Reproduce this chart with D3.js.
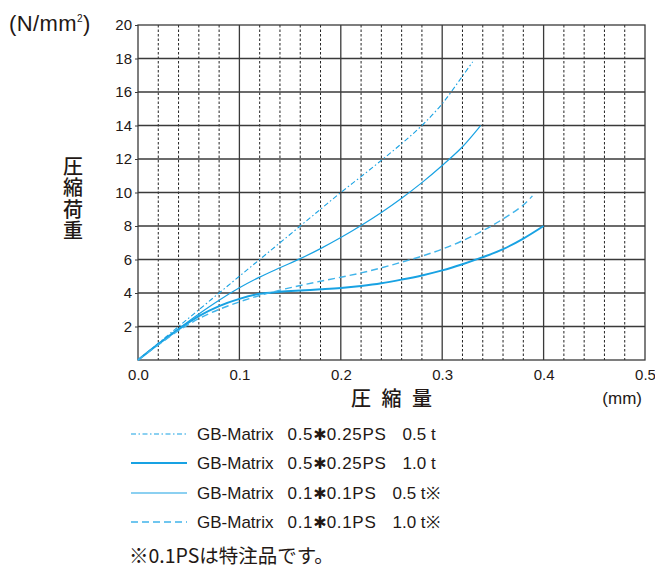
<!DOCTYPE html>
<html>
<head>
<meta charset="utf-8">
<script src="https://cdn.jsdelivr.net/npm/d3@7"></script>
<style>
  body { margin: 0; background: #fff; }
  text { font-family: "Liberation Sans", Arial, sans-serif; fill: #231815; }
  .jp { font-family: "Noto Sans CJK JP", sans-serif; }
</style>
</head>
<body>
<script>
// values (x in mm, y in N/mm2)
var xs1 = [0, 0.02, 0.04, 0.06, 0.08, 0.10, 0.12, 0.14, 0.16, 0.18, 0.20, 0.22, 0.24, 0.26, 0.28, 0.30, 0.32, 0.33];
var ys1 = [0, 1.0, 2.0, 3.0, 4.0, 5.0, 6.0, 7.0, 8.0, 9.0, 10.0, 10.95, 11.92, 12.92, 14.0, 15.3, 16.95, 17.8];
var xs2 = [0, 0.02, 0.04, 0.06, 0.08, 0.10, 0.12, 0.14, 0.16, 0.18, 0.20, 0.22, 0.24, 0.26, 0.28, 0.30, 0.32, 0.34, 0.36, 0.38, 0.40];
var ys2 = [0, 0.95, 1.83, 2.62, 3.22, 3.65, 3.95, 4.07, 4.15, 4.22, 4.3, 4.42, 4.58, 4.8, 5.05, 5.35, 5.72, 6.14, 6.62, 7.25, 8.0];
var xs3 = [0, 0.02, 0.04, 0.06, 0.08, 0.10, 0.12, 0.14, 0.16, 0.18, 0.20, 0.22, 0.24, 0.26, 0.28, 0.30, 0.32, 0.338];
var ys3 = [0, 0.95, 1.87, 2.75, 3.57, 4.31, 4.95, 5.51, 6.05, 6.65, 7.31, 8.03, 8.81, 9.66, 10.59, 11.61, 12.73, 14.0];
var xs4 = [0, 0.02, 0.04, 0.06, 0.08, 0.10, 0.12, 0.14, 0.16, 0.18, 0.20, 0.22, 0.24, 0.26, 0.28, 0.30, 0.32, 0.34, 0.36, 0.38, 0.389];
var ys4 = [0, 0.9, 1.75, 2.47, 3.02, 3.47, 3.85, 4.17, 4.45, 4.7, 4.94, 5.2, 5.5, 5.84, 6.2, 6.62, 7.12, 7.72, 8.42, 9.25, 9.8];

// name, spec, thickness
var seriesNames = [["GB-Matrix", "0.5\u27310.25PS", "0.5 t"],
                   ["GB-Matrix", "0.5\u27310.25PS", "1.0 t"],
                   ["GB-Matrix", "0.1\u27310.1PS", "0.5 t\u203B"],
                   ["GB-Matrix", "0.1\u27310.1PS", "1.0 t\u203B"]];
var xTicks = [0, 0.1, 0.2, 0.3, 0.4, 0.5];
var yTicks = [2, 4, 6, 8, 10, 12, 14, 16, 18, 20];

var width = 655, height = 568;
var plotL = 138, plotR = 645, plotT = 25, plotB = 360;
var blue = "#18a2e3";

var svg = d3.select("body").append("svg")
  .attr("width", width)
  .attr("height", height);

var x = d3.scaleLinear().domain([0, 0.5]).range([plotL, plotR]);
var y = d3.scaleLinear().domain([0, 20]).range([plotB, plotT]);

// minor dashed verticals every 0.02
var minor = d3.range(1, 25).map(function(i) { return i * 0.02; }).filter(function(i) { return Math.round(i * 50) % 5 != 0; });
svg.selectAll(".minor").data(minor).enter().append("line")
  .attr("x1", function(d) { return x(d); }).attr("x2", function(d) { return x(d); })
  .attr("y1", plotT).attr("y2", plotB)
  .attr("stroke", "#222").attr("stroke-width", 1)
  .attr("stroke-dasharray", "2.5,2");

// major grid
svg.selectAll(".vmaj").data(xTicks.slice(1, 5)).enter().append("line")
  .attr("x1", function(d) { return x(d); }).attr("x2", function(d) { return x(d); })
  .attr("y1", plotT).attr("y2", plotB)
  .attr("stroke", "#3a3a3a").attr("stroke-width", 1.3);
svg.selectAll(".hmaj").data(yTicks.slice(0, 9)).enter().append("line")
  .attr("x1", plotL).attr("x2", plotR)
  .attr("y1", function(d) { return y(d); }).attr("y2", function(d) { return y(d); })
  .attr("stroke", "#3a3a3a").attr("stroke-width", 1.3);

svg.append("rect")
  .attr("x", plotL).attr("y", plotT)
  .attr("width", plotR - plotL).attr("height", plotB - plotT)
  .attr("fill", "none").attr("stroke", "#3a3a3a").attr("stroke-width", 1.3);

// axes
var yAxis = svg.append("g")
  .attr("transform", "translate(" + plotL + ",0)")
  .call(d3.axisLeft(y).tickValues(yTicks).tickSize(3).tickPadding(3));
yAxis.select(".domain").remove();
yAxis.selectAll("text").style("font-size", "15px").attr("fill", "#231815");
yAxis.selectAll("line").attr("stroke", "#3a3a3a");

var xAxis = svg.append("g")
  .attr("transform", "translate(0," + plotB + ")")
  .call(d3.axisBottom(x).tickValues(xTicks).tickFormat(d3.format(".1f")).tickSize(0).tickPadding(9));
xAxis.select(".domain").remove();
xAxis.selectAll("text").style("font-size", "15px").attr("fill", "#231815");

// curves
var series = [
  { xs: xs1, ys: ys1, w: 1.1, dash: "5,2.5,1.5,2.5", c: blue },
  { xs: xs2, ys: ys2, w: 2, dash: null, c: blue },
  { xs: xs3, ys: ys3, w: 1.2, dash: null, c: blue },
  { xs: xs4, ys: ys4, w: 1.4, dash: "7,4", c: "#40b4ea" }
];
var line = d3.line()
  .x(function(d) { return x(d[0]); })
  .y(function(d) { return y(d[1]); })
  .curve(d3.curveCatmullRom.alpha(0.5));

series.forEach(function(s) {
  svg.append("path")
    .attr("d", line(d3.zip(s.xs, s.ys)))
    .attr("fill", "none")
    .attr("stroke", s.c)
    .attr("stroke-width", s.w)
    .attr("stroke-dasharray", s.dash);
});

// titles
var ut = svg.append("text").attr("x", 9).attr("y", 31)
  .style("font-size", "22px").style("letter-spacing", "0.4px");
ut.append("tspan").text("(N/mm");
ut.append("tspan").attr("dy", -9).style("font-size", "10px").text("2");
ut.append("tspan").attr("dy", 9).text(")");

svg.append("text")
  .attr("class", "jp")
  .attr("x", 73).attr("y", 156)
  .style("writing-mode", "vertical-rl")
  .style("text-orientation", "upright")
  .style("font-size", "20px")
  .style("font-weight", "500")
  .style("letter-spacing", "1.5px")
  .text("圧縮荷重");

svg.append("text")
  .attr("class", "jp")
  .attr("x", 393).attr("y", 406)
  .attr("text-anchor", "middle")
  .style("font-size", "20px")
  .style("font-weight", "500")
  .style("letter-spacing", "3px")
  .text("圧 縮 量");

svg.append("text")
  .attr("x", 642).attr("y", 404)
  .attr("text-anchor", "end")
  .style("font-size", "17px")
  .text("(mm)");

// legend
var lg = svg.selectAll(".lg").data(series).enter().append("g")
  .attr("transform", function(d, i) { return "translate(0," + [434, 463, 493, 522][i] + ")"; });
lg.append("line")
  .attr("x1", 131).attr("x2", 187)
  .attr("stroke", function(d) { return d.c; })
  .attr("stroke-width", function(d) { return d.w; })
  .attr("stroke-dasharray", function(d) { return d.dash; });
var lt = lg.append("text")
  .attr("x", 197).attr("y", 6)
  .style("font-size", "17px");
lt.each(function(d, i) {
  var n = seriesNames[i];
  var spec = n[1].split("\u2731");
  var t = d3.select(this);
  t.append("tspan").text(n[0]);
  t.append("tspan").attr("dx", 14).style("letter-spacing", "0.7px").text(spec[0]);
  t.append("tspan").style("font-family", "DejaVu Sans").style("font-size", "16px").text("\u2731");
  t.append("tspan").style("letter-spacing", "0.7px").text(spec[1]);
  t.append("tspan").attr("dx", 16).text(n[2]);
});

svg.append("text")
  .attr("class", "jp")
  .attr("x", 129).attr("y", 563)
  .style("font-size", "19.5px")
  .text("\u203B0.1PSは特注品です。");
</script>
</body>
</html>
